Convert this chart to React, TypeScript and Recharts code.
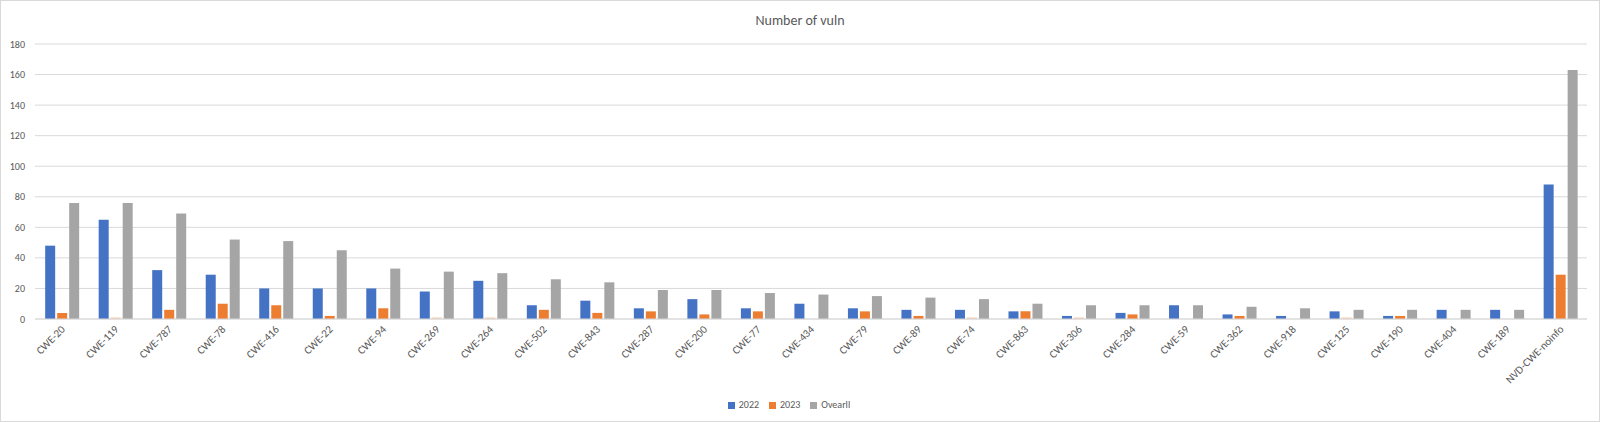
import React from 'react';
import { BarChart, Bar, XAxis, YAxis, CartesianGrid, Legend, Cell } from 'recharts';

const categories = ['CWE-20','CWE-119','CWE-787','CWE-78','CWE-416','CWE-22','CWE-94','CWE-269','CWE-264','CWE-502','CWE-843','CWE-287','CWE-200','CWE-77','CWE-434','CWE-79','CWE-89','CWE-74','CWE-863','CWE-306','CWE-284','CWE-59','CWE-362','CWE-918','CWE-125','CWE-190','CWE-404','CWE-189','NVD-CWE-noinfo'];
const v2022 = [48,65,32,29,20,20,20,18,25,9,12,7,13,7,10,7,6,6,5,2,4,9,3,2,5,2,6,6,88];
const v2023 = [4,1,6,10,9,2,7,1,1,6,4,5,3,5,0,5,2,1,5,1,3,0,2,0,1,2,0,0,29];
const overall = [76,76,69,52,51,45,33,31,30,26,24,19,19,17,16,15,14,13,10,9,9,9,8,7,6,6,6,6,163];
const faint2023 = ['CWE-119','CWE-269','CWE-264','CWE-74','CWE-306','CWE-125'];
const yTicks = [0,20,40,60,80,100,120,140,160,180];

const data = categories.map((c, i) => ({ name: c, y2022: v2022[i], y2023: v2023[i], overall: overall[i] }));

const FONT = 'Carlito, Lato, "Open Sans", sans-serif';

const XTick = (props: any) => {
  const { x, y, payload } = props;
  const ax = x + 4;
  const ay = y + 3;
  return (
    <text x={ax} y={ay} transform={`rotate(-45, ${ax}, ${ay})`} textAnchor="end" fontSize={11} fill="#595959" fontFamily={FONT}>
      {payload.value}
    </text>
  );
};

export default function App() {
  return (
    <div style={{ position: 'absolute', left: 0, top: 0, width: 1598, height: 420, border: '1px solid #d9d9d9', background: '#fff', overflow: 'hidden' }}>
      <div style={{ position: 'absolute', left: 0, width: '100%', top: 11, textAlign: 'center', fontFamily: FONT, fontSize: 14, color: '#595959' }}>
        Number of vuln
      </div>
      <BarChart width={1598} height={420} data={data} margin={{ top: 43, right: 12, left: 0, bottom: 3 }} barCategoryGap="19%" barGap={2}>
        <CartesianGrid vertical={false} stroke="#d9d9d9" />
        <XAxis dataKey="name" interval={0} tick={<XTick />} tickLine={false} axisLine={{ stroke: '#d9d9d9' }} height={79} />
        <YAxis domain={[0, 180]} ticks={yTicks} tickLine={false} axisLine={false} width={34} tickMargin={4} tick={{ fontSize: 10, fill: '#595959', fontFamily: FONT }} />
        <Legend verticalAlign="bottom" height={20} iconType="square" iconSize={7} wrapperStyle={{ fontSize: 10, fontFamily: FONT, color: '#595959' }} formatter={(v: any) => <span style={{ color: '#595959' }}>{v}</span>} />
        <Bar dataKey="y2022" name="2022" fill="#4472C4" isAnimationActive={false} />
        <Bar dataKey="y2023" name="2023" fill="#ED7D31" isAnimationActive={false}>
          {data.map((d) => (
            <Cell key={d.name} fill={faint2023.includes(d.name) ? '#F8CBAD' : '#ED7D31'} />
          ))}
        </Bar>
        <Bar dataKey="overall" name="Ovearll" fill="#A5A5A5" isAnimationActive={false} />
      </BarChart>
    </div>
  );
}
